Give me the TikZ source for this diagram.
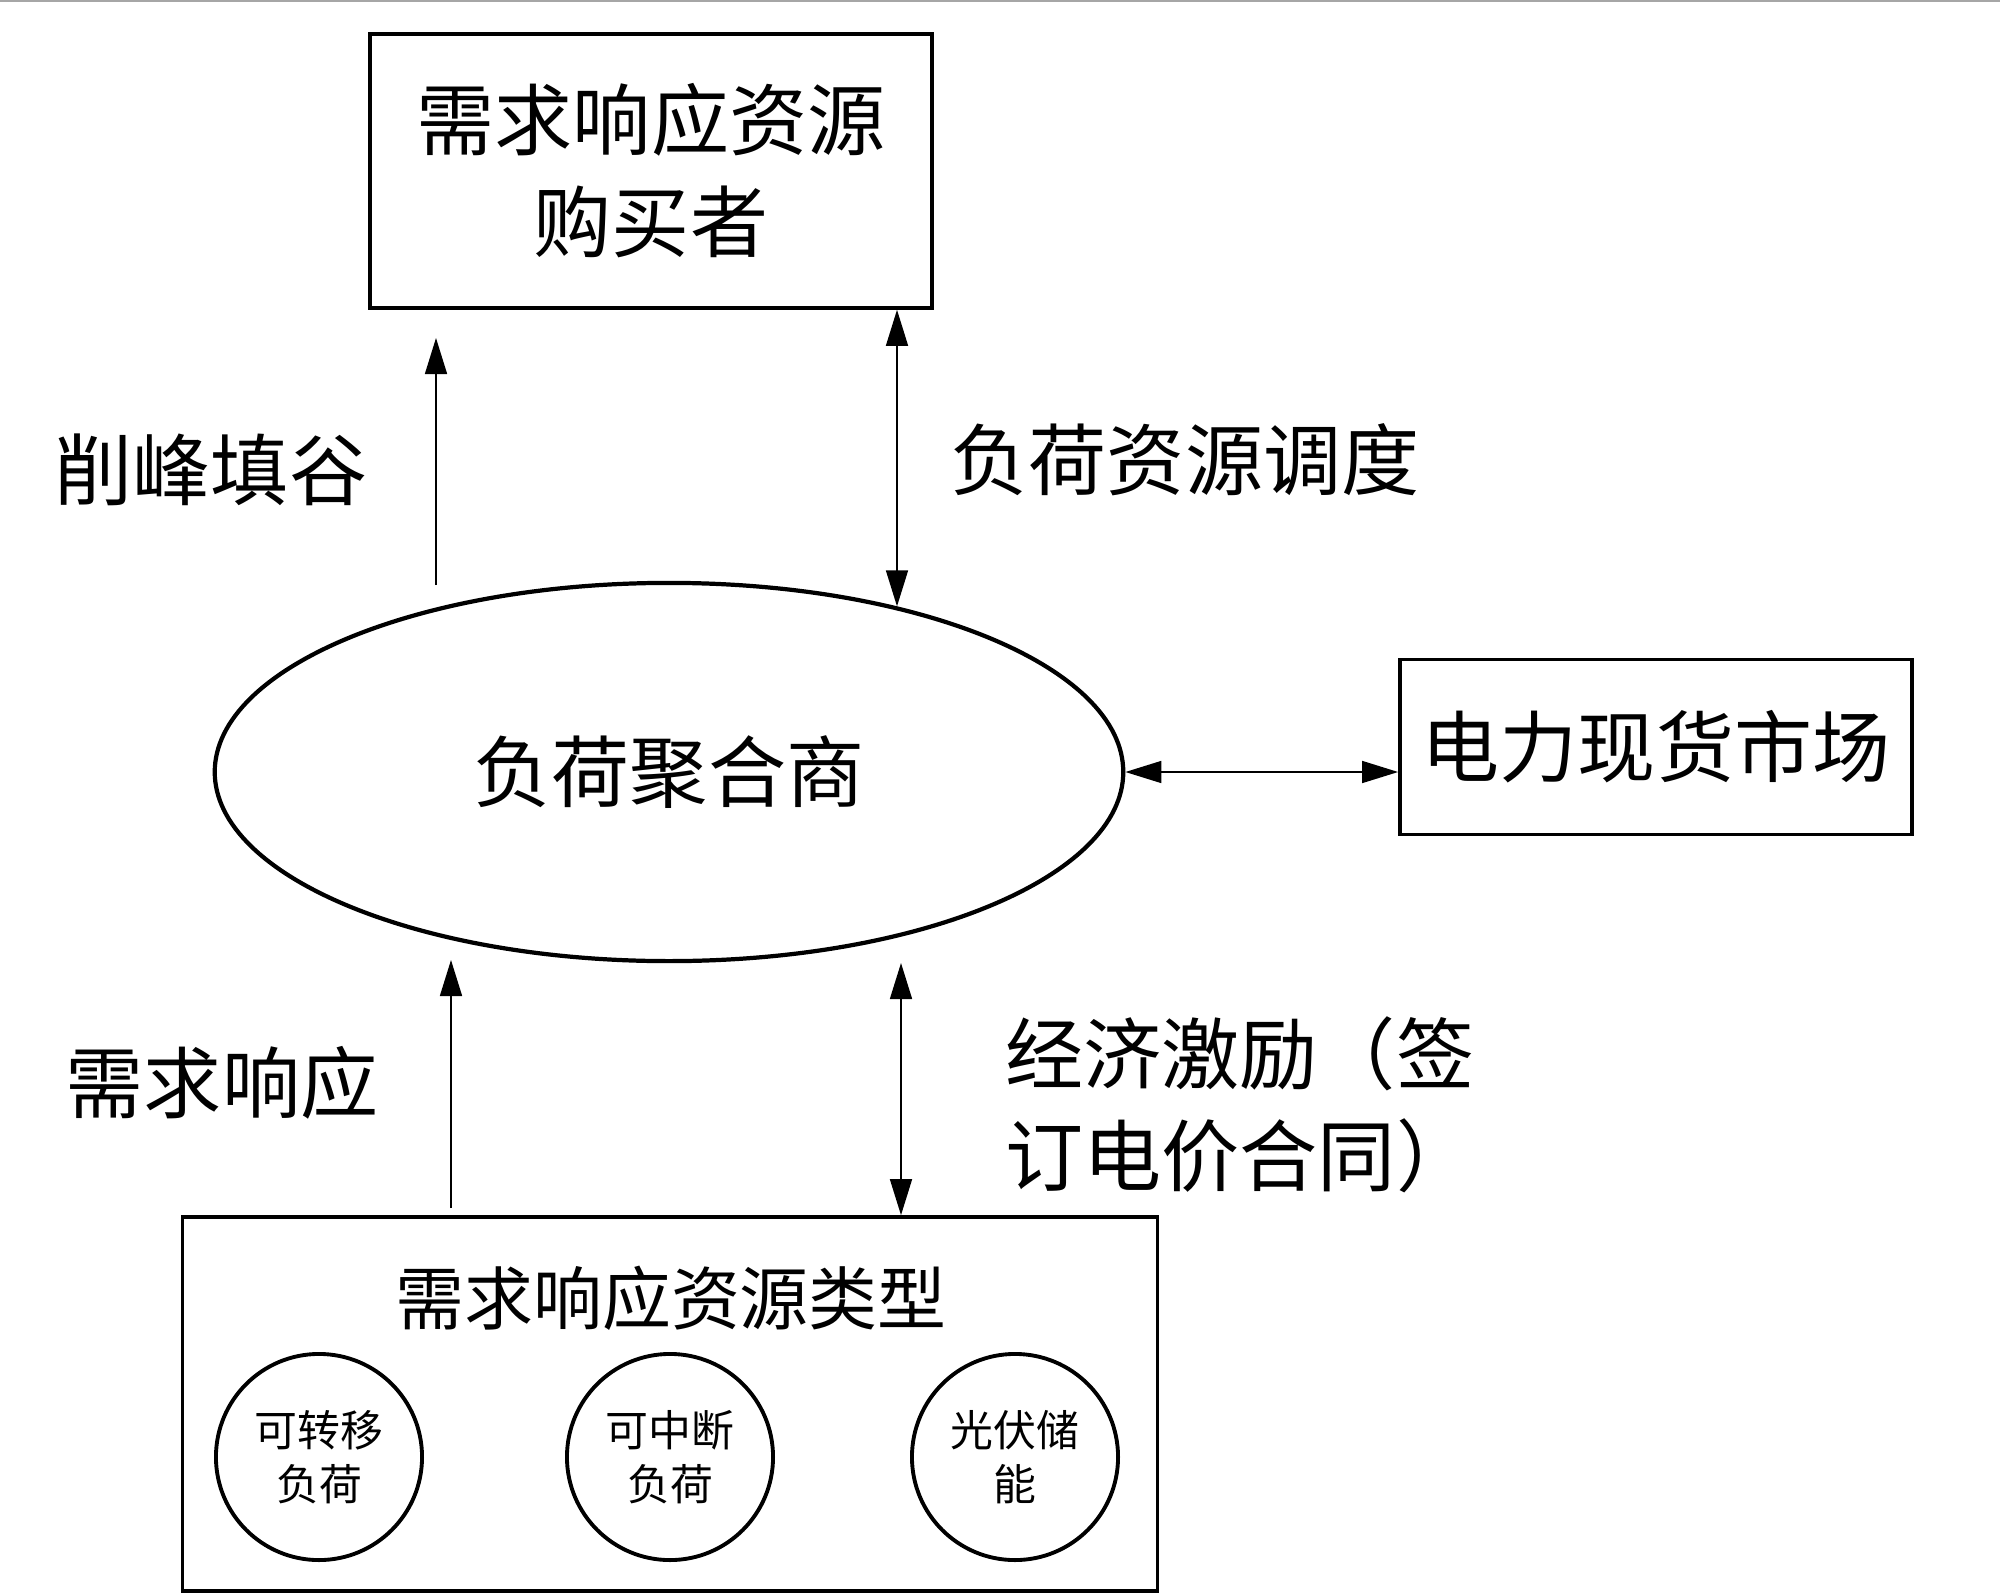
\documentclass[tikz,border=0pt]{standalone}
\usepackage{fontspec}
\setmainfont{Noto Sans CJK SC}
\usetikzlibrary{arrows.meta,shapes.geometric}
\tikzset{
  box/.style={draw,line width=1pt,inner sep=0pt},
  big/.style={font=\fontsize{22.2pt}{29pt}\selectfont,align=center,inner sep=0pt},
  small/.style={font=\fontsize{12.2pt}{15.4pt}\selectfont,align=center},
  res/.style={draw,circle,line width=1.1pt,minimum size=2.06cm,inner sep=0pt},
  arr/.style={line width=0.45pt,-{Triangle[length=0.36cm,width=0.22cm]}},
  dbl/.style={line width=0.45pt,{Triangle[length=0.36cm,width=0.22cm]}-{Triangle[length=0.36cm,width=0.22cm]}},
}
\begin{document}
\begin{tikzpicture}[x=0.01cm,y=-0.01cm]
\useasboundingbox (0,0) rectangle (2000,1594);
\draw[gray!70,line width=0.3pt] (0,1) -- (2000,1);

\node[box,big,minimum width=5.62cm,minimum height=2.74cm] (buyer) at (651,171) {需求响应资源\\购买者};
\node[draw,ellipse,line width=1.2pt,minimum width=9.08cm,minimum height=3.78cm,big] (agg) at (669,772) {负荷聚合商};
\node[box,big,minimum width=5.12cm,minimum height=1.75cm] (market) at (1656,747) {电力现货市场};
\node[box,minimum width=9.74cm,minimum height=3.74cm] (types) at (670,1404) {};
\node[font=\fontsize{19.6pt}{24pt}\selectfont,inner sep=0pt] (typesT) at (671,1298) {需求响应资源类型};
\node[res,small] (shift) at (319,1457) {可转移\\负荷};
\node[res,small] (cut) at (670,1457) {可中断\\负荷};
\node[res,small] (pv) at (1015,1457) {光伏储\\能};

\node[big] (peak) at (211,470) {削峰填谷};
\node[big] (disp) at (1185,460) {负荷资源调度};
\node[big] (resp) at (222,1083) {需求响应};
\node[big,align=left,anchor=west] (incent) at (1005,1105) {经济激励（签\\订电价合同）};

\coordinate (peakS) at (436,585);
\coordinate (peakE) at (436,338);
\coordinate (respS) at (451,1208);
\coordinate (respE) at (451,960);
\coordinate (incE) at (901,963);
\draw[arr] (peakS) -- (peakE);
\draw[dbl] (buyer.south -| agg.36) -- (agg.36);
\draw[dbl] (agg.east) -- (market.west |- agg.east);
\draw[arr] (respS) -- (respE);
\draw[dbl] (incE) -- (types.north -| incE);
\end{tikzpicture}
\end{document}
